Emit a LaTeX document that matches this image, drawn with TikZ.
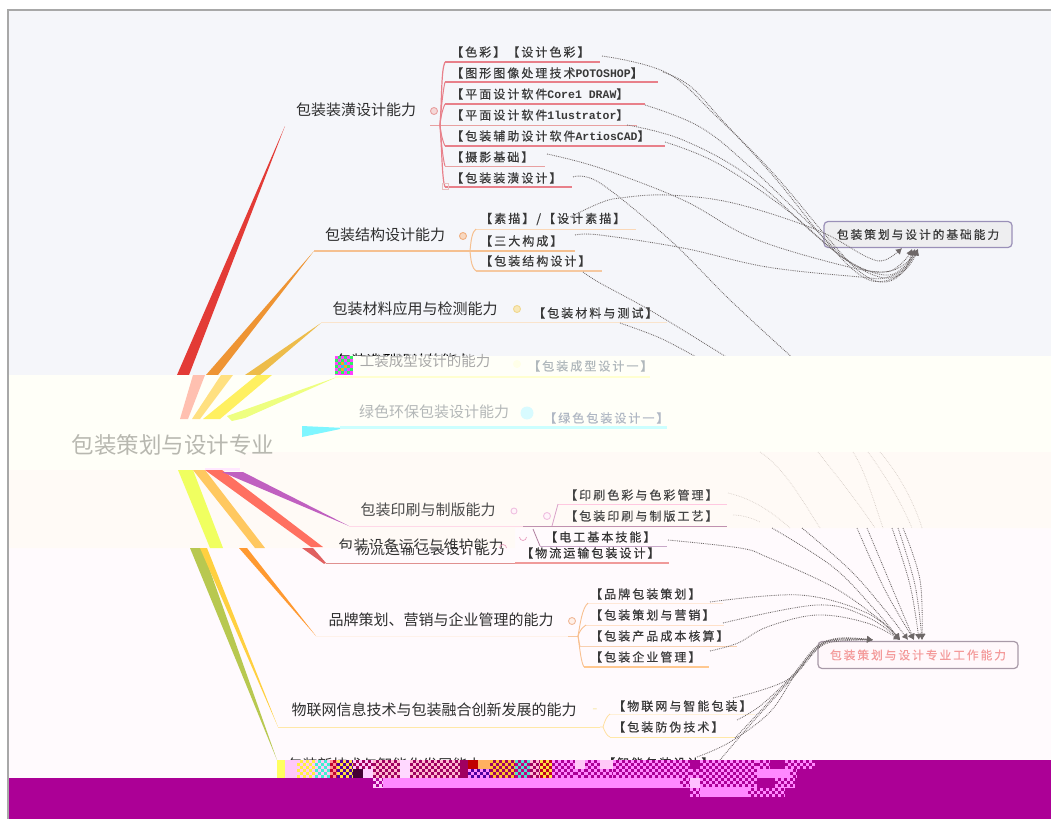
\documentclass[tikz,border=0pt]{standalone}
\usepackage{fontspec}
\usetikzlibrary{arrows.meta,calc}
\setmainfont{Noto Sans CJK SC}
\newfontfamily\leaffont[LetterSpace=17,FakeBold=0.4]{Noto Sans CJK SC}
\newfontfamily\monofont{Liberation Mono}
\newcommand{\dc}[1]{\definecolor{#1}{HTML}{#1}}
\dc{E33B36}\dc{EE9433}\dc{EDBC4A}\dc{E8A0A0}\dc{F5D8D8}\dc{E8808A}\dc{E8C0C0}\dc{F0B080}\dc{F8D8C0}\dc{FAD8B8}\dc{F5C090}\dc{F5C8A0}\dc{F0D890}\dc{F8E8B8}\dc{FAE4CC}\dc{000000}\dc{9A90B8}\dc{EEEEF0}\dc{3A3A3A}\dc{D8CFC8}\dc{B8B8B0}\dc{2E2E2E}\dc{383838}\dc{FFC0B0}\dc{FFE080}\dc{FFF060}\dc{EEFF80}\dc{FFFFD0}\dc{7FF6FF}\dc{CCFFFF}\dc{FFE8FF}\dc{F0FF60}\dc{FFC860}\dc{FF7060}\dc{C060C0}\dc{B8C850}\dc{FFD040}\dc{FF9930}\dc{E06060}\dc{A8A8A8}\dc{FFFFE8}\dc{B0B8BC}\dc{B4B8B8}\dc{D8FBFF}\dc{B0B8C4}\dc{4A4A4A}\dc{F0C0E0}\dc{FFF4FA}\dc{FFD8E8}\dc{FFC8E0}\dc{C090B0}\dc{D8A0C8}\dc{444444}\dc{303030}\dc{E8A0C0}\dc{C8A8C8}\dc{E09090}\dc{F09A9A}\dc{B080A0}\dc{333333}\dc{F0B898}\dc{FFF0E8}\dc{FFF2EA}\dc{F8C8A0}\dc{FFE8D8}\dc{FFE0C8}\dc{F8D0B0}\dc{FFC890}\dc{F8C090}\dc{F8E8B0}\dc{FFE8A8}\dc{FFF0D8}\dc{FFE0A0}\dc{A89AA8}\dc{FFF8FB}\dc{F49A9A}\dc{FFF040}\dc{40F0D0}\dc{FF9090}\dc{C00030}\dc{FFE040}\dc{5000A0}\dc{FFFF60}\dc{440033}\dc{FFD0FF}\dc{FFB8D0}\dc{FFD8FF}\dc{C00000}\dc{FFB060}\dc{FF88FF}\dc{FFC030}\dc{50E0D0}\dc{C00080}\dc{C00020}\dc{FFC0FF}\dc{FF40FF}\dc{30F060}\dc{FFA020}\dc{30C0FF}
\definecolor{bgtop}{HTML}{F5F6FA}
\definecolor{bgbright}{HTML}{FFFFF8}
\definecolor{bgmid}{HTML}{FFFAF6}
\definecolor{bglow}{HTML}{FFFAFD}
\definecolor{purp}{HTML}{AC0096}
\definecolor{crim}{HTML}{A00060}
\definecolor{pk}{HTML}{FF88FF}
\definecolor{pale}{HTML}{FFC8F8}
\definecolor{linkc}{HTML}{6E6868}
\tikzset{
  main/.style={font=\fontsize{22.5}{24}\selectfont,text=#1,inner sep=0pt},
  main/.default={B8B8B0},
  lone/.style={font=\fontsize{15}{17}\selectfont,text=#1,inner sep=0pt},
  lone/.default={2E2E2E},
  leafn/.style={font=\fontsize{12}{13}\leaffont,text=#1,inner sep=0pt,anchor=west},
  leafn/.default={383838},
  link/.style={draw=linkc,densely dotted,line width=.85pt},
  palelink/.style={draw=D8CFC8,densely dotted,line width=.7pt},
  linkto/.style={link,-{Latex[length=6pt,width=7pt]}},
  callout/.style={draw=#1,rounded corners=4pt,line width=1.2pt,minimum height=26pt,inner sep=0pt},
  mk/.style n args={2}{draw=#1,fill=#2,circle,line width=.9pt,minimum size=7pt,inner sep=0pt}
}
\newcommand{\latn}[1]{{\fontsize{11.5}{13}\monofont\bfseries #1}}
% underline with named ends
\newcommand{\ul}[6]{\coordinate (#1-a) at (#2,#4);\coordinate (#1-b) at (#3,#4);\draw[#5,line width=#6pt] (#1-a)--(#1-b);}
% checker block
\newcommand{\chk}[6]{%
  \fill[#5] (#1,#3) rectangle (#2,#4);
  \foreach \yy [count=\cc] in {#3,\the\numexpr#3+3\relax,...,\the\numexpr#4-3\relax}{
    \pgfmathsetmacro{\ph}{mod(\cc,2)*3}
    \draw[#6,line width=3pt,dash pattern=on 3pt off 3pt,dash phase=\ph pt] (#1,\yy+1.5)--(#2,\yy+1.5);
  }}
\begin{document}
\begin{tikzpicture}[x=1pt,y=-1pt]
\useasboundingbox (0,0) rectangle (1051,819);
\fill[white] (0,0) rectangle (1051,819);
\fill[bgtop] (9,11) rectangle (1051,376);

% ---------- upper part: wedges
\fill[E33B36] (285,126) -- (177,375) -- (189,375) -- cycle;
\fill[EE9433] (314,251) -- (206,375) -- (218,375) -- cycle;
\fill[EDBC4A] (321,323) -- (245,375) -- (260,375) -- cycle;

% ---------- group 1
\node[lone] (n1) at (356,110) {包装装潢设计能力};
\node[mk={E8A0A0}{F5D8D8}] (m1) at (434,111) {};
\coordinate (h1) at (440,125);
\ul{u1}{445}{600}{62}{E8808A}{1.2}
\ul{u2}{445}{658}{82}{E8808A}{1.2}
\ul{u3}{445}{645}{104}{E8808A}{1.2}
\ul{u4}{430}{637}{125}{E8A0A0}{1}
\ul{u5}{445}{665}{146}{E8808A}{1.2}
\ul{u6}{445}{545}{166}{E8A0A0}{1}
\ul{u7}{445}{572}{187}{E8808A}{1.2}
\draw[E8808A,line width=1.2pt] (h1) .. controls (442,100) and (441,70) .. (u1-a);
\draw[E8808A,line width=1pt] (h1) .. controls (441,110) and (443,90) .. (u2-a);
\draw[E8808A,line width=1pt] (h1) .. controls (441,115) and (443,108) .. (u3-a);
\draw[E8808A,line width=1pt] (h1) .. controls (441,135) and (443,142) .. (u5-a);
\draw[E8808A,line width=1pt] (h1) .. controls (441,140) and (443,160) .. (u6-a);
\draw[E8808A,line width=1.2pt] (h1) .. controls (442,150) and (442,180) .. (u7-a);
\node[draw=E8C0C0,line width=.6pt,minimum size=6pt,inner sep=0pt] (m1b) at (445,186) {};
\node[leafn] (a1) at (451,52) {【色彩】【设计色彩】};
\node[leafn] (a2) at (451,73) {【图形图像处理技术\latn{POTOSHOP}】};
\node[leafn] (a3) at (451,94) {【平面设计软件\latn{Core1 DRAW}】};
\node[leafn] (a4) at (451,115) {【平面设计软件\latn{1lustrator}】};
\node[leafn] (a5) at (451,136) {【包装辅助设计软件\latn{ArtiosCAD}】};
\node[leafn] (a6) at (451,157) {【摄影基础】};
\node[leafn] (a7) at (451,178) {【包装装潢设计】};

% ---------- group 2
\node[lone] (n2) at (385,235) {包装结构设计能力};
\node[mk={F0B080}{F8D8C0}] (m2) at (463,236) {};
\coordinate (h2) at (470,251);
\ul{v1}{476}{636}{229}{FAD8B8}{1}
\ul{v2}{314}{575}{251}{F5C090}{1.2}
\ul{v3}{476}{602}{271}{F5C8A0}{1.2}
\draw[F5C090,line width=1pt] (h2) .. controls (471,240) and (472,232) .. (v1-a);
\draw[F5C090,line width=1pt] (h2) .. controls (471,262) and (472,268) .. (v3-a);
\node[leafn] (b1) at (480,219) {【素描】/【设计素描】};
\node[leafn] (b2) at (480,241) {【三大构成】};
\node[leafn] (b3) at (480,261) {【包装结构设计】};

% ---------- group 3
\node[lone] (n3) at (415,309) {包装材料应用与检测能力};
\node[mk={F0D890}{F8E8B8}] (m3) at (517,309) {};
\ul{w1}{321}{667}{322.5}{FAE4CC}{.9}
\node[leafn] (c1) at (533,313) {【包装材料与测试】};

% ---------- sliver of a text covered by the next band
\node[lone={000000}] (n4top) at (404,361) {包装造型设计的能力};

% ---------- callout 1
\node[callout={9A90B8},fill=EEEEF0,minimum width=188pt,font=\fontsize{11.7}{14}\leaffont,text=3A3A3A] (base) at (918,234.5) {包装策划与设计的基础能力};
\coordinate (t0) at ($(base.south)+(-16,0)$);
\coordinate (t1) at ($(base.south)+(-6,1)$);
\coordinate (t2) at ($(base.south)+(-3,1)$);
\coordinate (t3) at ($(base.south)+(0,1)$);
\coordinate (s1) at (602,56);
\coordinate (s2) at (663,72);
\coordinate (s3) at (645,105);
\coordinate (s4) at (627,125);
\coordinate (s5) at (665,142);
\coordinate (s6) at (547,154);
\coordinate (s7) at (573,177);
\coordinate (s8) at (570,217);
\coordinate (s9) at (575,235);
\coordinate (s10) at (583,272);
\coordinate (s11) at (620,323);
\coordinate (e7) at (795,360);
\coordinate (e10) at (728,358);
\coordinate (e11) at (698,358);
\draw[linkto] plot[smooth,tension=.65] coordinates {(s1) (667,73) (717,117) (773,173) (827,237) (860,272) (885,282) (905,270) (t2)};
\draw[linkto] plot[smooth,tension=.65] coordinates {(s2) (690,86) (722,120) (775,178) (825,240) (860,275) (885,281) (907,268) (t3)};
\draw[linkto] plot[smooth,tension=.65] coordinates {(s3) (700,127) (750,167) (813,227) (850,262) (885,278) (905,268) (t1)};
\draw[linkto] plot[smooth,tension=.65] coordinates {(s4) (683,140) (750,177) (813,233) (850,262) (885,275) (905,266) (t2)};
\draw[linkto] plot[smooth,tension=.65] coordinates {(s5) (717,163) (783,207) (833,250) (860,268) (885,272) (905,264) (t3)};
\draw[linkto] plot[smooth,tension=.6] coordinates {(s6) (600,168) (683,200) (750,237) (833,263) (883,272) (903,262) (t1)};
\draw[link] plot[smooth,tension=.6] coordinates {(s7) (600,183) (670,240) (730,300) (e7)};
\draw[linkto] plot[smooth,tension=.6] coordinates {(s8) (600,203) (620,198) (667,195) (733,203) (817,230) (867,257) (885,260) (t0)};
\draw[linkto] plot[smooth,tension=.6] coordinates {(s9) (600,235) (683,248) (767,267) (860,277) (885,278) (905,268) (t3)};
\draw[link] plot[smooth,tension=.6] coordinates {(s10) (600,283) (653,312) (e10)};
\draw[link] plot[smooth,tension=.6] coordinates {(s11) (660,338) (e11)};

% ---------- bright band and the two below it
\fill[bgbright] (9,375) -- (335,375) -- (335,356) -- (1051,356) -- (1051,452) -- (240,452) -- (240,470) -- (9,470) -- cycle;
\fill[bglow] (9,528) -- (1051,528) -- (1051,790) -- (9,790) -- cycle;
\fill[bgmid] (9,470) -- (240,470) -- (240,452) -- (1051,452) -- (1051,528) -- (515,528) -- (515,548) -- (9,548) -- cycle;

% ---------- wedges in the bright band
\fill[FFC0B0] (193,375) -- (205,375) -- (188,419) -- (180,419) -- cycle;
\fill[FFE080] (221,375) -- (233,375) -- (200,419) -- (192,419) -- cycle;
\fill[FFF060] (257,375) -- (272,375) -- (220,419) -- (203,419) -- cycle;
\fill[EEFF80] (337,377) -- (227,416) -- (232,421) -- (245,418) -- cycle;
\fill[FFFFD0] (335,375.5) rectangle (650,377.5);
\fill[7FF6FF] (302,426) -- (345,428) -- (302,437) -- cycle;
\fill[CCFFFF] (340,426) rectangle (667,428.5);

% ---------- wedges in the middle band
\fill[FFE8FF] (205,468) rectangle (240,471);
\fill[F0FF60] (178,470) -- (193,470) -- (223,548) -- (210,548) -- cycle;
\fill[FFC860] (193,470) -- (205,470) -- (265,548) -- (255,548) -- cycle;
\fill[FF7060] (205,470) -- (222,470) -- (323,547) -- (311,547) -- cycle;
\fill[C060C0] (222,472) -- (243,472) -- (349,526) -- cycle;
% wedges in the lower band
\fill[B8C850] (190,548) -- (202,548) -- (277,760) -- cycle;
\fill[FFD040] (200,548) -- (207,548) -- (278,727) -- cycle;
\fill[FF9930] (239,548) -- (247,548) -- (316,636) -- cycle;
\fill[E06060] (302,548) -- (313,548) -- (326,563) -- (324,563.8) -- cycle;

% ---------- faint parts of links
\coordinate (f1a) at (760,452);\coordinate (f1b) at (820,528);
\coordinate (f2a) at (818,452);\coordinate (f2b) at (875,528);
\coordinate (f3a) at (853,452);\coordinate (f3b) at (883,528);
\coordinate (f4a) at (868,452);\coordinate (f4b) at (912,528);
\coordinate (f5a) at (880,452);\coordinate (f5b) at (922,528);
\coordinate (f6a) at (728,493);\coordinate (f6b) at (790,528);
\coordinate (f7a) at (733,515);\coordinate (f7b) at (760,522);
\draw[palelink] (f1a) .. controls (785,468) and (805,505) .. (f1b);
\draw[palelink] (f2a) .. controls (840,480) and (860,505) .. (f2b);
\draw[palelink] (f3a) .. controls (865,470) and (875,505) .. (f3b);
\draw[palelink] (f4a) .. controls (885,475) and (900,500) .. (f4b);
\draw[palelink] (f5a) .. controls (900,475) and (915,505) .. (f5b);
\draw[palelink] (f6a) .. controls (750,498) and (770,510) .. (f6b);
\draw[palelink] (f7a) .. controls (742,515) and (752,518) .. (f7b);

% ---------- texts in bands
\node[main] (root) at (173,445) {包装策划与设计专业};
\node[lone={A8A8A8},font=\fontsize{14.5}{16}\selectfont] (n4) at (425,361) {工装成型设计的能力};
\node[mk={FFFFE8}{FFFFE8}] (m4) at (517,364) {};
\node[leafn={B0B8BC}] (d1) at (528,366) {【包装成型设计一】};
\node[lone={B4B8B8}] (n5) at (434,412) {绿色环保包装设计能力};
\node[mk={D8FBFF}{D8FBFF},minimum size=12pt] (m5) at (527,413) {};
\node[leafn={B0B8C4}] (e1) at (544,418) {【绿色包装设计一】};

\node[lone={4A4A4A}] (n6) at (428,510) {包装印刷与制版能力};
\node[mk={F0C0E0}{FFF4FA},minimum size=6pt] (m6) at (514,511) {};
\node[mk={F0C0E0}{FFF4FA}] (m7) at (547,516) {};
\ul{p0}{349}{523}{526}{FFD8E8}{1}
\ul{p1}{558}{727}{504}{FFC8E0}{1}
\ul{p2}{523}{727}{526}{C090B0}{1}
\coordinate (h6) at (552,526);
\draw[D8A0C8,line width=.8pt] (h6) -- (p1-a);
\node[leafn={444444}] (f1) at (565,495) {【印刷色彩与色彩管理】};
\node[leafn={444444}] (f2) at (565,516) {【包装印刷与制版工艺】};

% two texts cut at one line
\begin{scope}
  \clip (300,520) rectangle (520,548.5);
  \node[lone={303030}] (n7a) at (421,546) {包装设备运行与维护能力};
\end{scope}
\begin{scope}
  \clip (300,548.5) rectangle (520,575);
  \node[lone={303030}] (n7b) at (430,549) {物流运输包装设计能力};
\end{scope}
\draw[E8A0C0,line width=.7pt] (519.5,537) arc[start angle=180,end angle=0,radius=3.5];
\draw[E8A0C0,line width=.7pt] (499.5,548) arc[start angle=180,end angle=360,radius=3.5];
\coordinate (h7) at (533,529);
\ul{q1}{540}{667}{546}{C8A8C8}{.9}
\ul{q2}{326}{515}{563}{E09090}{1}
\ul{q3}{515}{669}{563}{F09A9A}{1.2}
\draw[B080A0,line width=.8pt] (h7) -- (q1-a);
\node[leafn={333333}] (g1) at (545,537) {【电工基本技能】};
\node[leafn={333333}] (g2) at (521,553) {【物流运输包装设计】};

% ---------- brand group
\node[lone] (n8) at (441,620) {品牌策划、营销与企业管理的能力};
\node[mk={F0B898}{FFF0E8}] (m8) at (572,621) {};
\coordinate (h8) at (578,636);
\ul{r0}{316}{568}{636}{FFF2EA}{.8}
\ul{r00}{568}{578}{636}{F8C8A0}{.9}
\ul{r1}{588}{723}{603}{FFE8D8}{1}
\ul{r2}{586}{724}{625}{FFE0C8}{1}
\ul{r3}{580}{737}{646}{F8D0B0}{1}
\ul{r4}{584}{709}{667}{FFC890}{1.2}
\draw[F8C090,line width=.9pt] (h8) .. controls (580,625) and (582,608) .. (r1-a);
\draw[F8C090,line width=.9pt] (h8) .. controls (580,630) and (582,628) .. (r2-a);
\draw[F8C090,line width=.9pt] (h8) .. controls (579,640) and (579,644) .. (r3-a);
\draw[F8C090,line width=.9pt] (h8) .. controls (580,650) and (581,662) .. (r4-a);
\node[leafn] (k1) at (590,594) {【品牌包装策划】};
\node[leafn] (k2) at (590,615) {【包装策划与营销】};
\node[leafn] (k3) at (590,636) {【包装产品成本核算】};
\node[leafn] (k4) at (590,657) {【包装企业管理】};

% ---------- iot group
\node[lone] (n9) at (434,710) {物联网信息技术与包装融合创新发展的能力};
\node[lone={F8E8B0}] (m9) at (595,711) {-};
\coordinate (h9) at (603,727);
\ul{x0}{278}{600}{727}{FFE8A8}{1}
\ul{x1}{610}{755}{714}{FFF0D8}{.9}
\ul{x2}{610}{735}{737}{FFE8A8}{1}
\draw[FFE0A0,line width=.8pt] (x0-b) -- (h9) .. controls (605,720) and (607,716) .. (x1-a);
\draw[FFE0A0,line width=.8pt] (h9) .. controls (605,732) and (607,736) .. (x2-a);
\node[leafn] (l1) at (613,706) {【物联网与智能包装】};
\node[leafn] (l2) at (613,727) {【包装防伪技术】};

% ---------- callout 2
\node[callout={A89AA8},fill=FFF8FB,minimum width=200pt,minimum height=27pt,font=\fontsize{11.7}{14}\leaffont,text=F49A9A] (work) at (918,655) {包装策划与设计专业工作能力};
\coordinate (w0) at ($(work.north)+(-45,-1)$);
\coordinate (w1) at ($(work.north)+(-18,-1)$);
\coordinate (w2) at ($(work.north)+(-10,-1)$);
\coordinate (w3) at ($(work.north)+(-4,-1)$);
\coordinate (w4) at ($(work.north)+(1,-1)$);
\coordinate (w5) at ($(work.north)+(4,-1)$);
\coordinate (i1) at (772,528);\coordinate (i2) at (802,528);\coordinate (i3) at (857,528);
\coordinate (i4) at (867,528);\coordinate (i5) at (892,528);\coordinate (i6) at (898,528);\coordinate (i7) at (903,528);
\coordinate (o1) at (668,540);\coordinate (o2) at (710,602);\coordinate (o3) at (723,623);
\coordinate (o4) at (710,651);\coordinate (o5) at (733,698);\coordinate (o6) at (737,720);
\coordinate (o7) at (735,738);\coordinate (o8) at (697,757);\coordinate (o9) at (720,760);
\draw[linkto] plot[smooth,tension=.6] coordinates {(i1) (833,567) (875,610) (w1)};
\draw[linkto] plot[smooth,tension=.6] coordinates {(i2) (850,570) (885,610) (w2)};
\draw[linkto] plot[smooth,tension=.6] coordinates {(i3) (885,590) (w3)};
\draw[linkto] plot[smooth,tension=.6] coordinates {(i4) (893,590) (w3)};
\draw[linkto] plot[smooth,tension=.6] coordinates {(i5) (910,585) (w4)};
\draw[linkto] plot[smooth,tension=.6] coordinates {(i6) (915,585) (w5)};
\draw[linkto] plot[smooth,tension=.6] coordinates {(i7) (920,580) (w5)};
\draw[linkto] plot[smooth,tension=.6] coordinates {(o1) (740,548) (767,557) (833,587) (880,620) (w1)};
\draw[linkto] plot[smooth,tension=.6] coordinates {(o2) (800,595) (867,613) (w1)};
\draw[linkto] plot[smooth,tension=.6] coordinates {(o3) (817,605) (867,617) (w1)};
\draw[linkto] plot[smooth,tension=.6] coordinates {(o4) (738,643) (767,627) (817,615) (867,623) (w1)};
\draw[linkto] plot[smooth,tension=.6] coordinates {(o5) (787,680) (817,647) (840,638) (w0)};
\draw[linkto] plot[smooth,tension=.6] coordinates {(o6) (760,706) (790,678) (817,646) (840,639) (w0)};
\draw[linkto] plot[smooth,tension=.6] coordinates {(o7) (765,706) (792,677) (818,647) (840,639) (w0)};
\draw[link] plot[smooth,tension=.6] coordinates {(o8) (730,742) (770,712) (795,675) (820,646) (840,640) (w0)};
\draw[link] plot[smooth,tension=.6] coordinates {(o9) (750,725) (797,673) (820,647) (840,641) (w0)};

% ---------- covered texts
\node[lone={303030}] (n10) at (385,765) {包装新技术与智能化发展能力};
\node[leafn={303030}] (z1) at (603,763) {【智能包装设计】};

% ---------- bottom
\fill[purp] (9,778) rectangle (1051,819);
\fill[purp] (815,760) rectangle (1051,778);
\fill[purp] (797,769) rectangle (815,778);
\fill[FFFF60] (277,760) rectangle (285,778);
\fill[pale] (285,760) rectangle (297,778);
\chk{297}{315}{760}{778}{pale}{FFF040}
\chk{315}{330}{760}{778}{pale}{40F0D0}
\chk{330}{337}{760}{778}{FF9090}{C00030}
\chk{337}{353}{760}{778}{FFE040}{5000A0}
\chk{353}{373}{760}{769}{pale}{crim}
\fill[440033] (353,769) rectangle (363,778);
\fill[FFD0FF] (363,769) rectangle (373,778);
\chk{373}{400}{760}{778}{FFB8D0}{crim}
\fill[FFD8FF] (400,760) rectangle (410,778);
\chk{410}{460}{760}{778}{FFB8D0}{crim}
\fill[crim] (460,760) rectangle (468,778);
\fill[C00000] (468,760) rectangle (478,769);
\fill[FFB060] (478,760) rectangle (490,769);
\chk{468}{490}{769}{778}{FF88FF}{5000A0}
\chk{490}{515}{760}{778}{FFC030}{crim}
\chk{515}{530}{760}{778}{50E0D0}{C00080}
\chk{530}{540}{760}{778}{FFB8D0}{crim}
\chk{540}{552}{760}{778}{FFE040}{C00020}
\chk{552}{575}{760}{778}{pk}{purp}
\fill[pale] (575,760) rectangle (585,769);
\chk{575}{585}{769}{778}{pk}{purp}
\chk{585}{600}{760}{778}{pk}{purp}
\fill[pale] (600,760) rectangle (613,769);
\chk{600}{613}{769}{778}{pk}{purp}
\chk{613}{690}{760}{778}{pk}{purp}
\fill[purp] (690,760) rectangle (700,769);
\chk{690}{700}{769}{778}{pk}{purp}
\chk{700}{757}{760}{778}{pk}{purp}
\chk{757}{770}{760}{769}{pk}{purp}
\fill[purp] (770,760) rectangle (785,769);
\chk{785}{815}{760}{769}{pk}{purp}
\fill[pk] (757,769) rectangle (790,778);
\chk{790}{797}{769}{778}{pk}{purp}
\chk{373}{383}{778}{788}{pale}{purp}
\fill[pk] (383,778) rectangle (680,788);
\chk{680}{690}{778}{788}{pk}{purp}
\fill[FFC0FF] (690,778) rectangle (700,788);
\chk{700}{757}{778}{788}{pk}{purp}
\chk{775}{795}{778}{788}{pk}{purp}
\chk{690}{700}{788}{797}{pk}{purp}
\fill[pk] (700,788) rectangle (748,797);
\chk{748}{785}{788}{797}{pk}{purp}

% small mosaic
\chk{335}{353}{356}{375}{FF40FF}{30F060}
\chk{341}{347}{362}{371}{FFA020}{30C0FF}

% ---------- frame
\draw[A8A8A8,line width=2pt] (1051,10) -- (8,10) -- (8,819);
\end{tikzpicture}
\end{document}
